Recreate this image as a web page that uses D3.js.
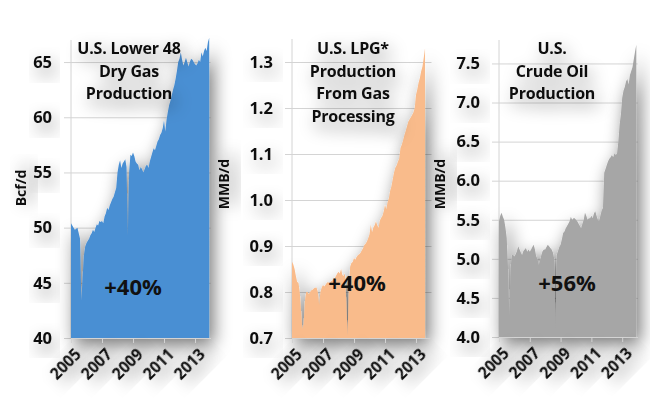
<!DOCTYPE html>
<html>
<head>
<meta charset="utf-8">
<script src="https://cdn.jsdelivr.net/npm/d3@7"></script>
<style>
  body { margin: 0; background: #fff; }
  svg { font-family: "Open Sans", Lato, sans-serif; font-weight: bold; }
</style>
</head>
<body>
<svg class="main-chart" width="650" height="416"></svg>
<script>
// monthly values, starting Jan 2005
var gasValues = [
  50.4, 50.2, 50.0, 49.8, 49.9, 50.0, 49.5, 49.0, 43.4, 45.5, 47.5, 48.3,
  48.6, 48.8, 49.0, 49.3, 49.5, 49.8, 49.6, 50.0, 50.3, 50.2, 50.6, 50.5,
  50.6, 50.4, 51.0, 51.3, 51.8, 51.6, 52.0, 52.3, 52.6, 52.8, 53.2, 53.6,
  55.0, 55.7, 56.1, 55.4, 55.8, 56.0, 56.2, 55.5, 49.3, 55.0, 56.6, 56.5,
  56.8, 56.5, 56.0, 55.8, 55.7, 55.2, 55.5, 55.3, 55.0, 55.3, 55.6, 55.7,
  55.4, 56.0, 56.4, 56.8, 57.2, 57.0, 57.4, 57.8, 58.0, 58.4, 58.6, 59.0,
  59.7, 58.7, 59.8, 60.5, 61.1, 61.5, 62.0, 62.5, 62.9, 63.5, 64.2, 65.0,
  65.3, 65.9, 65.2, 64.7, 65.0, 65.4, 65.0, 64.6, 65.0, 65.3, 65.2, 65.0,
  64.8, 64.7, 64.9, 65.2, 65.0, 65.9, 65.5, 66.0, 66.3, 66.0, 66.8, 67.2
];
var lpgValues = [
  0.866, 0.860, 0.850, 0.835, 0.822, 0.820, 0.800, 0.760, 0.720, 0.730, 0.780, 0.800,
  0.800, 0.795, 0.800, 0.804, 0.805, 0.808, 0.809, 0.810, 0.800, 0.772, 0.800, 0.810,
  0.815, 0.812, 0.816, 0.820, 0.822, 0.818, 0.823, 0.825, 0.826, 0.830, 0.835, 0.840,
  0.844, 0.840, 0.850, 0.837, 0.835, 0.840, 0.780, 0.706, 0.800, 0.855, 0.863, 0.865,
  0.874, 0.870, 0.876, 0.880, 0.882, 0.885, 0.890, 0.895, 0.902, 0.905, 0.910, 0.917,
  0.925, 0.946, 0.930, 0.940, 0.945, 0.953, 0.945, 0.939, 0.955, 0.961, 0.965, 0.975,
  0.989, 0.980, 0.995, 1.004, 1.020, 1.030, 1.045, 1.060, 1.070, 1.075, 1.083, 1.090,
  1.113, 1.120, 1.130, 1.141, 1.150, 1.160, 1.170, 1.175, 1.180, 1.185, 1.190, 1.200,
  1.228, 1.240, 1.255, 1.265, 1.280, 1.290, 1.309, 1.330
];
var crudeValues = [
  5.48, 5.55, 5.59, 5.54, 5.50, 5.40, 5.27, 4.90, 4.28, 4.88, 5.05, 5.05,
  5.03, 5.06, 5.10, 5.16, 5.12, 5.08, 5.05, 5.10, 5.12, 5.14, 5.09, 5.12,
  5.09, 5.12, 5.15, 5.18, 5.12, 5.03, 5.00, 4.92, 4.98, 5.05, 5.10, 5.12,
  5.12, 5.15, 5.18, 5.16, 5.14, 5.12, 5.08, 5.00, 4.03, 5.05, 5.10, 5.15,
  5.18, 5.25, 5.33, 5.35, 5.39, 5.42, 5.45, 5.48, 5.54, 5.50, 5.52, 5.52,
  5.50, 5.48, 5.45, 5.42, 5.39, 5.45, 5.50, 5.59, 5.55, 5.50, 5.52, 5.52,
  5.55, 5.52, 5.58, 5.61, 5.55, 5.50, 5.48, 5.55, 5.62, 5.65, 6.10, 6.15,
  6.20, 6.25, 6.28, 6.30, 6.33, 6.30, 6.35, 6.33, 6.35, 6.50, 6.72, 6.85,
  7.06, 7.15, 7.20, 7.27, 7.30, 7.23, 7.35, 7.40, 7.45, 7.55, 7.65, 7.74
];

var yearTicks = [2005, 2007, 2009, 2011, 2013];
var gasTicks = [40, 45, 50, 55, 60, 65];
var lpgTicks = [0.7, 0.8, 0.9, 1.0, 1.1, 1.2, 1.3];
var crudeTicks = [4.0, 4.5, 5.0, 5.5, 6.0, 6.5, 7.0, 7.5];

var titles = [
  ["U.S. Lower 48", "Dry Gas", "Production"],
  ["U.S. LPG*", "Production", "From Gas", "Processing"],
  ["U.S.", "Crude Oil", "Production"]
];
var unitLabels = ["Bcf/d", "MMB/d", "MMB/d"];
var growthLabels = ["+40%", "+40%", "+56%"];

var svg = d3.select("svg.main-chart");

// soft grey haze, like the office "shadow" effect on the original
var defs = svg.append("defs");
var f = defs.append("filter").attr("id", "haze")
  .attr("x", "-40%").attr("y", "-40%").attr("width", "180%").attr("height", "180%");
f.append("feGaussianBlur").attr("in", "SourceAlpha").attr("stdDeviation", 9);
f.append("feOffset").attr("dx", 4).attr("dy", 7);
f.append("feComponentTransfer").append("feFuncA").attr("type", "linear").attr("slope", 0.55);
var m = f.append("feMerge");
m.append("feMergeNode");
m.append("feMergeNode").attr("in", "SourceGraphic");

var panels = [
  { values: gasValues, ticks: gasTicks, domain: [40, 67], fmt: d3.format("d"),
    left: 71, right: 210.5, top: 40, bottom: 338, color: "#4a8fd3",
    unitX: 21, unitY: 188, titleX: 129, growthX: 133, growthY: 295 },
  { values: lpgValues, ticks: lpgTicks, domain: [0.7, 1.35], fmt: d3.format(".1f"),
    left: 292, right: 431.5, top: 39, bottom: 338, color: "#f9bb8b",
    unitX: 224, unitY: 184, titleX: 353, growthX: 357, growthY: 291 },
  { values: crudeValues, ticks: crudeTicks, domain: [4.0, 7.8], fmt: d3.format(".1f"),
    left: 499, right: 637.6, top: 40, bottom: 337, color: "#a6a6a6",
    unitX: 440, unitY: 184, titleX: 552, growthX: 567, growthY: 291 }
];

panels.forEach(function(p, k) {
  var xScale = d3.scaleLinear().domain([2005, 2014]).range([p.left, p.right]);
  var yScale = d3.scaleLinear().domain(p.domain).range([p.bottom, p.top]);
  var g = svg.append("g");
  var w = p.right - p.left;

  // gridlines + y labels
  var yAxis = d3.axisLeft(yScale).tickValues(p.ticks).tickFormat(p.fmt)
    .tickSize(-(w + 7)).tickPadding(12);
  var yG = g.append("g").attr("transform", "translate(" + (p.left - 7) + ",0)").call(yAxis);
  yG.select(".domain").remove();
  yG.selectAll("line").attr("stroke", "#d4d4d4");
  yG.selectAll("text").attr("font-size", 16.5).attr("fill", "#111")
    .attr("font-family", "'Open Sans', sans-serif").attr("font-weight", "bold")
    .style("filter", "url(#haze)");

  g.append("line")
    .attr("x1", p.left).attr("x2", p.left)
    .attr("y1", p.top).attr("y2", p.bottom)
    .attr("stroke", "#d4d4d4");

  // area
  var area = d3.area()
    .x(function(d, i) { return xScale(2005 + i / 12); })
    .y0(yScale(p.domain[0]))
    .y1(function(d) { return yScale(d); });
  g.append("path")
    .datum(p.values)
    .attr("d", area)
    .attr("fill", p.color)
    .style("filter", "url(#haze)");

  // x axis
  var xAxis = d3.axisBottom(xScale).tickValues(yearTicks).tickFormat(d3.format("d"))
    .tickSize(5).tickSizeOuter(0);
  var xG = g.append("g").attr("transform", "translate(0," + p.bottom + ")").call(xAxis);
  xG.select(".domain").attr("stroke", "#d4d4d4");
  xG.selectAll("line").attr("stroke", "#d4d4d4");
  xG.selectAll("text")
    .attr("font-size", 15.5).attr("fill", "#111")
    .attr("font-family", "'Open Sans', sans-serif").attr("font-weight", "bold")
    .attr("text-anchor", "end")
    .attr("dy", "0.35em")
    .attr("transform", "translate(7,14) rotate(-45)")
    .attr("x", 0).attr("y", 0)
    .style("filter", "url(#haze)");

  // unit label
  g.append("text")
    .text(unitLabels[k])
    .attr("transform", "translate(" + p.unitX + "," + p.unitY + ") rotate(-90)")
    .attr("text-anchor", "middle").attr("dy", "0.35em")
    .attr("font-size", 14).attr("fill", "#111")
    .style("filter", "url(#haze)");

  // title
  var t = g.append("text")
    .attr("text-anchor", "middle")
    .attr("font-size", 16).attr("fill", "#111")
    .attr("letter-spacing", "-0.2")
    .style("filter", "url(#haze)");
  titles[k].forEach(function(line, j) {
    t.append("tspan").attr("x", p.titleX).attr("y", 54 + j * 22.7).text(line);
  });

  // growth label
  g.append("text")
    .text(growthLabels[k])
    .attr("x", p.growthX).attr("y", p.growthY)
    .attr("text-anchor", "middle")
    .attr("font-size", 22).attr("fill", "#111");
});
</script>
</body>
</html>
